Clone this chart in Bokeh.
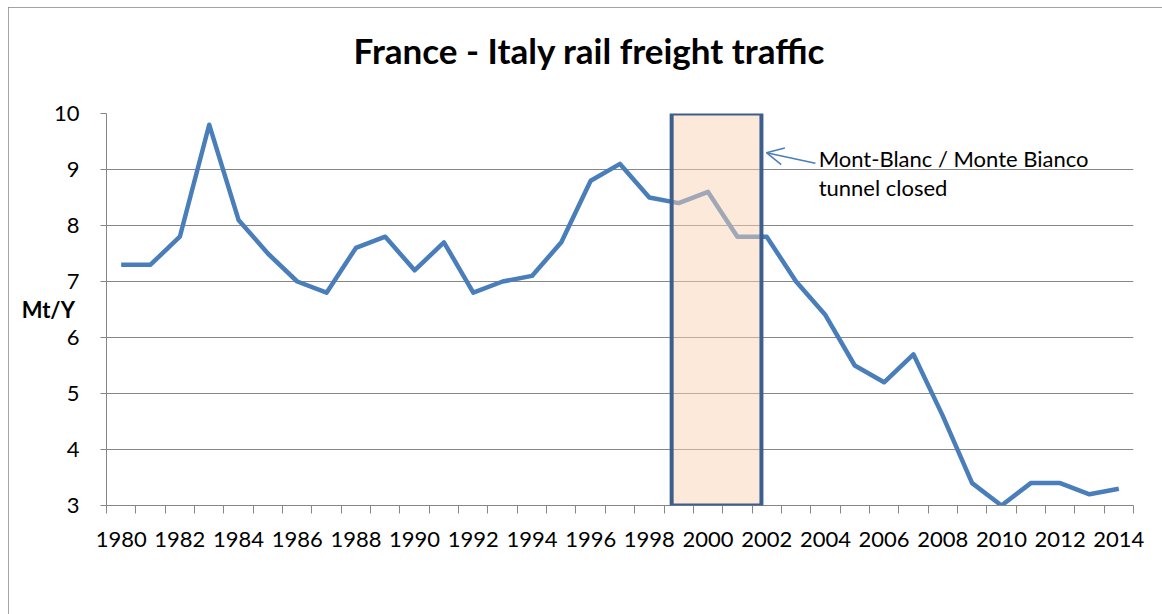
from bokeh.plotting import figure
from bokeh.models import FixedTicker, BoxAnnotation, Arrow, OpenHead, Label, Title
from bokeh.embed import file_html
from bokeh.resources import INLINE

# ---- data ----
years = list(range(1980, 2015))
traffic = [7.3, 7.3, 7.8, 9.8, 8.1, 7.5, 7.0, 6.8, 7.6, 7.8,
           7.2, 7.7, 6.8, 7.0, 7.1, 7.7, 8.8, 9.1, 8.5, 8.4,
           8.6, 7.8, 7.8, 7.0, 6.4, 5.5, 5.2, 5.7, 4.6, 3.4,
           3.0, 3.4, 3.4, 3.2, 3.3]
label_years = list(range(1980, 2015, 2))
y_ticks = list(range(3, 11))
title_text = "France - Italy rail freight traffic"
y_label = "Mt/Y"
note_lines = ["Mont-Blanc / Monte Bianco", "tunnel closed"]

FONT = "Lato"
GRAY = "#868686"
BLUE = "#4a7ebb"

p = figure(width=1154, height=607,
           x_range=(years[0] - 0.5, years[-1] + 0.5), y_range=(3, 10),
           output_backend="svg", toolbar_location=None,
           min_border_left=98, min_border_right=29,
           min_border_top=106, min_border_bottom=109)
p.styles = {"position": "relative", "left": "8px", "top": "7px",
            "outline": "2px solid " + GRAY, "outline-offset": "-2px"}
p.outline_line_color = None
p.background_fill_color = "white"
p.border_fill_color = "white"

# spacer between frame and title
p.add_layout(Title(text=" ", text_font_size="1px", standoff=16), "above")

p.title.text = title_text
p.title.text_font = FONT
p.title.text_font_style = "bold"
p.title.text_font_size = "35px"
p.title.text_color = "black"
p.title.align = "left"
p.title.offset = 247
p.title.vertical_align = "top"
p.title.standoff = 43

# x axis: category-style, ticks between years
xa = p.xaxis[0]
xa.ticker = FixedTicker(ticks=label_years, minor_ticks=[y - 0.5 for y in years] + [years[-1] + 0.5])
xa.major_tick_line_color = None
xa.major_tick_out = 0
xa.major_tick_in = 0
xa.minor_tick_line_color = GRAY
xa.minor_tick_out = 8
xa.minor_tick_in = 0
xa.axis_line_color = GRAY
xa.major_label_text_font = FONT
xa.major_label_text_font_size = "22px"
xa.major_label_text_color = "black"
xa.major_label_standoff = 18

ya = p.yaxis[0]
ya.ticker = FixedTicker(ticks=y_ticks, minor_ticks=[])
ya.major_tick_line_color = GRAY
ya.major_tick_out = 6
ya.major_tick_in = 0
ya.axis_line_color = GRAY
ya.major_label_text_font = FONT
ya.major_label_text_font_size = "22px"
ya.major_label_text_color = "black"
ya.major_label_standoff = 21
ya.axis_label = y_label
ya.axis_label_orientation = "horizontal"
ya.axis_label_text_font = FONT
ya.axis_label_text_font_style = "bold"
ya.axis_label_text_font_size = "22px"
ya.axis_label_text_color = "black"
ya.axis_label_standoff = -24

p.xgrid.visible = False
p.ygrid.grid_line_color = GRAY
p.ygrid.grid_line_width = 1

p.line(years, traffic, line_color=BLUE, line_width=4.5, line_join="round")

# closure box
box = BoxAnnotation(left=1998.76, right=2001.82, bottom=3, top=10,
                    fill_color="#fbd2b1", fill_alpha=0.49,
                    line_color="#3c5f8e", line_alpha=1.0, line_width=4)
p.add_layout(box)

p.add_layout(Arrow(end=OpenHead(size=17, line_color=BLUE, line_width=1.5),
                   x_start=2003.66, y_start=9.11, x_end=2001.99, y_end=9.30,
                   line_color=BLUE, line_width=1.5))

for txt, yy in zip(note_lines, [9.196, 8.68]):
    p.add_layout(Label(x=2003.77, y=yy, text=txt, text_font=FONT,
                       text_font_size="22px", text_baseline="middle",
                       text_align="left", text_color="black"))

open("out.html", "w").write(file_html(p, INLINE))
